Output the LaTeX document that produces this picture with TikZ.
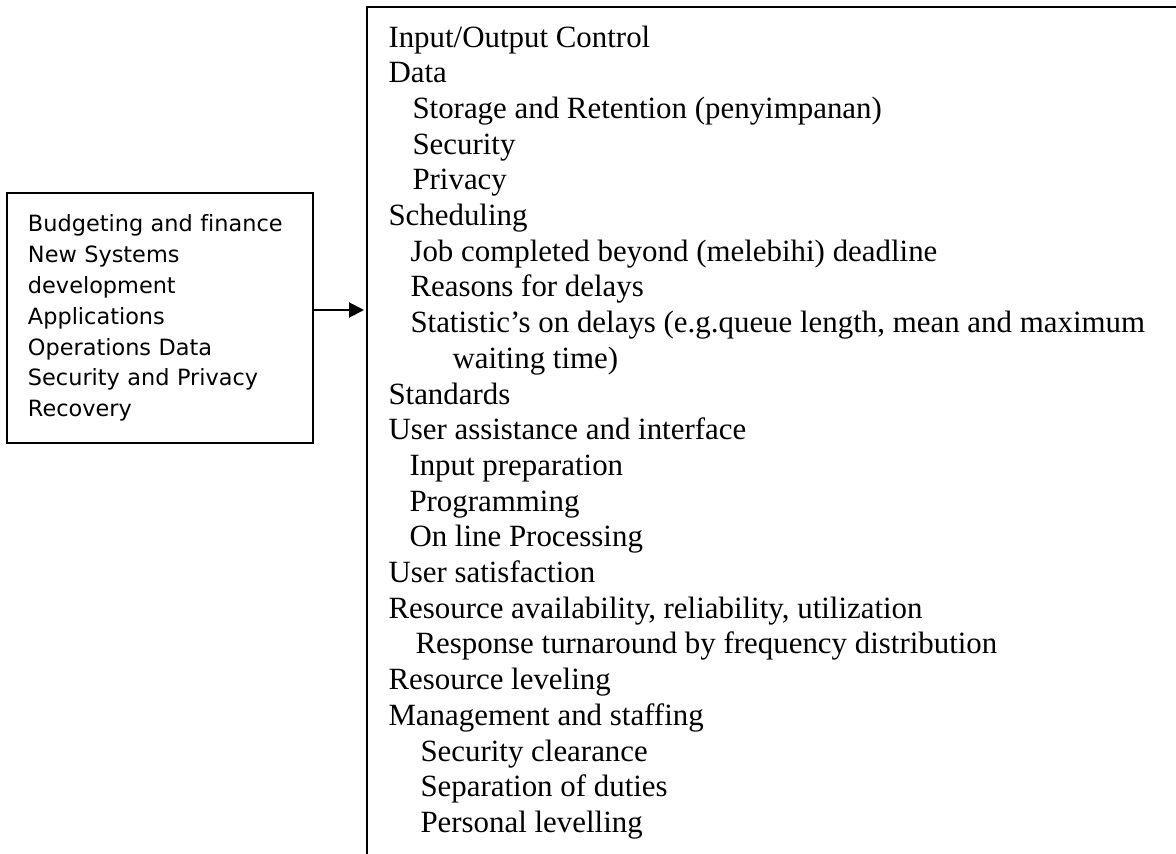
\documentclass[tikz,border=0pt]{standalone}
\usepackage{fontspec}
\setmainfont[Ligatures=NoCommon]{Liberation Serif}
\newfontfamily\boxsans[Ligatures=NoCommon]{DejaVu Sans}
\usetikzlibrary{arrows.meta}

\tikzset{
  listitem/.style={inner sep=0pt,anchor=base west,font=\fontsize{12.36}{14.28}\selectfont},
  areabox/.style={draw=black,line width=0.8pt,align=left,inner xsep=8.4pt,
    font=\boxsans\fontsize{8.96}{12.36}\selectfont}
}

\begin{document}
\begin{tikzpicture}[x=0.4pt,y=-0.4pt]
\useasboundingbox (0,0) rectangle (1176,854);
% left box with the areas
\node[areabox,anchor=north west,minimum width=122.4pt,minimum height=100pt,text width=105.6pt] (budget) at (6,192)
  {Budgeting and finance\\New Systems\\development\\Applications\\Operations Data\\Security and Privacy\\Recovery};
% right box, cut off at the right and the bottom
\coordinate (listtop) at (367,7);
\draw[line width=0.8pt] (367,854) -- (listtop) -- (1176,7);
\coordinate (listin) at (364,310);
\draw[line width=0.8pt,-{Triangle[length=6pt,width=6pt]}] (budget.east |- listin) -- (listin);
% the items, indent / text
\foreach \ind/\txt [count=\i] in {
  0/{Input/Output Control},
  0/{Data},
  24/{Storage and Retention (penyimpanan)},
  24/{Security},
  24/{Privacy},
  0/{Scheduling},
  22/{Job completed beyond (melebihi) deadline},
  22/{Reasons for delays},
  22/{Statistic’s on delays (e.g.queue length, mean and maximum},
  64/{waiting time)},
  0/{Standards},
  0/{User assistance and interface},
  21/{Input preparation},
  21/{Programming},
  21/{On line Processing},
  0/{User satisfaction},
  0/{Resource availability, reliability, utilization},
  27/{Response turnaround by frequency distribution},
  0/{Resource leveling},
  0/{Management and staffing},
  32/{Security clearance},
  32/{Separation of duties},
  32/{Personal levelling}}
  \node[listitem] (item\i) at ({388+\ind},{47+35.7*(\i-1)}) {\txt};
\end{tikzpicture}
\end{document}
